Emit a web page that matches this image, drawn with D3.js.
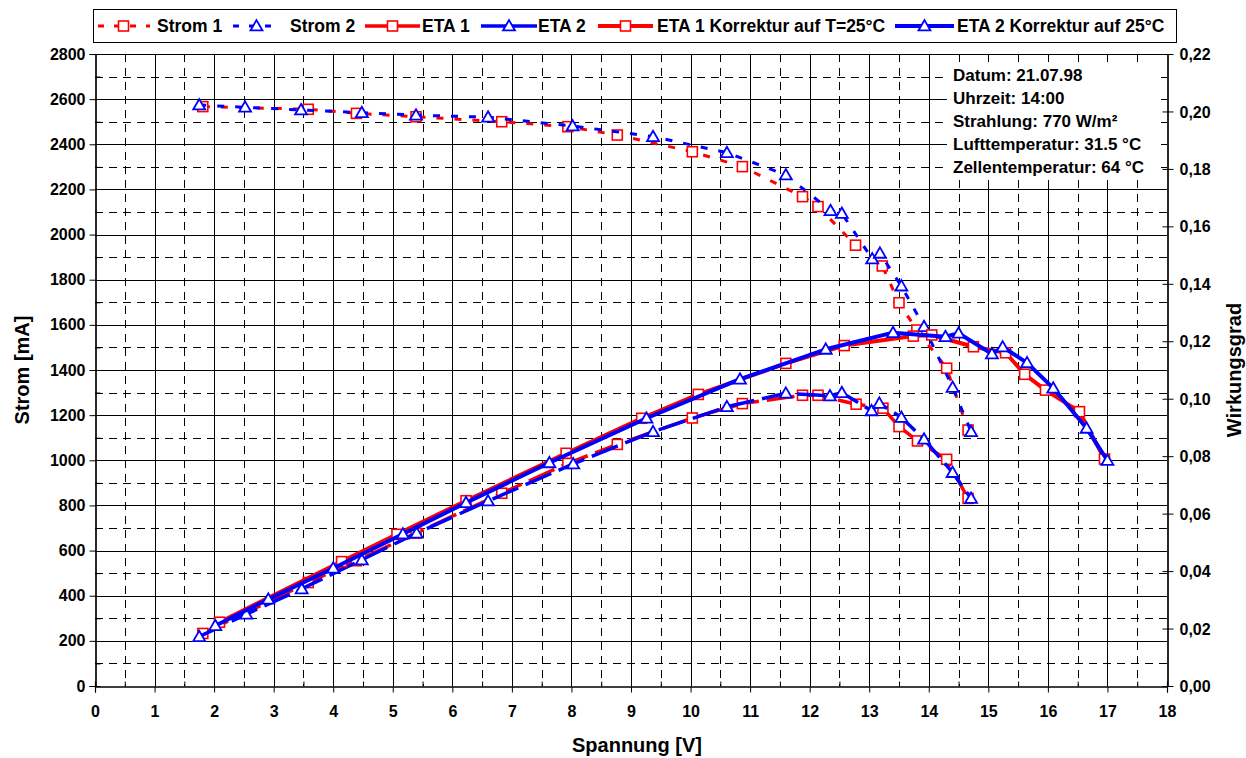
<!DOCTYPE html>
<html><head><meta charset="utf-8">
<script src="https://cdn.jsdelivr.net/npm/d3@7"></script>
<style>
body{margin:0;background:#fff}
text{font-family:"Liberation Sans",Arial,sans-serif;font-weight:bold;fill:#000}
</style>
</head><body><svg id="c" width="1246" height="758"></svg>
<script>
// ---- data ----
const strom1V = [1.81,3.58,4.39,5.39,6.83,7.94,8.77,10.03,10.87,11.88,12.14,12.77,13.22,13.50,13.80,14.30,14.66];
const strom1I = [2567,2555,2537,2522,2500,2478,2441,2367,2301,2168,2124,1953,1861,1698,1577,1408,1134];
const strom2V = [1.75,2.52,3.46,4.48,5.39,6.60,8.02,9.37,10.61,11.60,12.35,12.54,13.05,13.18,13.54,13.92,14.40,14.71];
const strom2I = [2574,2564,2552,2540,2529,2520,2481,2434,2363,2264,2106,2094,1892,1917,1772,1592,1323,1127];
const eta1V = [1.81,3.58,4.39,5.39,6.83,7.94,8.77,10.03,10.87,11.88,12.14,12.78,13.23,13.50,13.81,14.30,14.66];
const eta1 = [0.0183,0.0360,0.0436,0.0532,0.0671,0.0775,0.0841,0.0933,0.0983,0.1012,0.1012,0.0981,0.0967,0.0903,0.0853,0.0789,0.0653];
const eta2V = [1.75,2.54,3.47,4.48,5.40,6.60,8.03,9.37,10.61,11.60,12.34,12.54,13.04,13.17,13.54,13.92,14.40,14.71];
const eta2 = [0.0172,0.0250,0.0338,0.0439,0.0532,0.0644,0.0773,0.0885,0.0972,0.1019,0.1010,0.1021,0.0958,0.0984,0.0935,0.0859,0.0743,0.0653];
const eta1kV = [2.09,4.14,5.07,6.23,7.91,9.18,10.13,11.60,12.58,13.74,14.05,14.75,15.29,15.61,15.96,16.53,16.95];
const eta1k = [0.0222,0.0433,0.0528,0.0645,0.0810,0.0932,0.1015,0.1123,0.1185,0.1218,0.1222,0.1181,0.1160,0.1085,0.1030,0.0955,0.0790];
const eta2kV = [2.02,2.91,4.00,5.17,6.23,7.63,9.26,10.83,12.27,13.40,14.28,14.50,15.06,15.24,15.65,16.09,16.65,17.00];
const eta2k = [0.0210,0.0302,0.0410,0.0529,0.0638,0.0777,0.0932,0.1068,0.1172,0.1230,0.1216,0.1228,0.1156,0.1180,0.1125,0.1037,0.0897,0.0785];
const xTicks = d3.range(0,19,1);
const yLeftTicks = d3.range(0,2801,200);
const yRightTicks = [0,0.02,0.04,0.06,0.08,0.10,0.12,0.14,0.16,0.18,0.20,0.22];
const legendLabels = ["Strom 1","Strom 2","ETA 1","ETA 2","ETA 1 Korrektur auf T=25°C","ETA 2 Korrektur auf 25°C"];
const infoLines = ["Datum: 21.07.98","Uhrzeit: 14:00","Strahlung: 770 W/m²","Lufttemperatur: 31.5 °C","Zellentemperatur: 64 °C"];

const RED = "#ff0000", BLUE = "#0000ff";
const svg = d3.select("#c");
const x = d3.scaleLinear([0,18],[95,1167]);
const yL = d3.scaleLinear([0,2800],[686,54]);
const yR = d3.scaleLinear([0,0.22],[686,54]);

// ---- grid ----
const g = svg.append("g");
d3.range(1,18).forEach(v=>{
  g.append("line").attr("x1",Math.round(x(v))+0.5).attr("x2",Math.round(x(v))+0.5)
   .attr("y1",54).attr("y2",686).attr("stroke","#000").attr("stroke-width",1);
});
d3.range(0.5,18,1).forEach(v=>{
  g.append("line").attr("x1",Math.round(x(v))+0.5).attr("x2",Math.round(x(v))+0.5)
   .attr("y1",54).attr("y2",686).attr("stroke","#000").attr("stroke-width",1).attr("stroke-dasharray","8,6");
});
d3.range(200,2801,200).forEach(v=>{
  g.append("line").attr("y1",Math.round(yL(v))+0.5).attr("y2",Math.round(yL(v))+0.5)
   .attr("x1",95).attr("x2",1167).attr("stroke","#000").attr("stroke-width",1);
});
d3.range(100,2800,200).forEach(v=>{
  g.append("line").attr("y1",Math.round(yL(v))+0.5).attr("y2",Math.round(yL(v))+0.5)
   .attr("x1",95).attr("x2",1167).attr("stroke","#000").attr("stroke-width",1).attr("stroke-dasharray","8,6");
});

// ---- info box background (covers grid) ----
svg.append("rect").attr("x",947).attr("y",62).attr("width",214).attr("height",118).attr("fill","#fff");

// ---- axes ----
const fs = "16px";
const axL = svg.append("g").attr("transform","translate(95.5,0)")
  .call(d3.axisLeft(yL).tickValues(yLeftTicks).tickSize(6).tickPadding(4).tickFormat(d3.format("d")));
svg.append("g").attr("transform","translate(95.5,0)")
  .call(d3.axisRight(yL).tickValues(d3.range(100,2800,200)).tickSize(5).tickFormat(""));
const axR = svg.append("g").attr("transform","translate(1167.5,0)")
  .call(d3.axisRight(yR).tickValues(yRightTicks).tickSizeInner(6).tickSizeOuter(0).tickPadding(6)
  .tickFormat(d=>d3.format(".2f")(d).replace(".",",")));
svg.append("g").attr("transform","translate(1167.5,0)")
  .call(d3.axisLeft(yR).tickValues(yRightTicks).tickSize(5).tickFormat(""));
const axB = svg.append("g").attr("transform","translate(0,686.5)")
  .call(d3.axisBottom(x).tickValues(xTicks).tickSize(6).tickPadding(13));
svg.append("g").attr("transform","translate(0,686.5)")
  .call(d3.axisTop(x).tickValues(d3.range(0.5,18,1)).tickSize(5).tickFormat(""));
svg.selectAll(".domain").attr("stroke","#000").attr("stroke-width",1.2);
svg.selectAll(".tick line").attr("stroke","#000");
svg.selectAll(".tick text").style("font-size",fs).style("font-family","Liberation Sans, Arial, sans-serif").style("font-weight","bold");
axR.selectAll(".tick text").attr("dy","0.35em");
svg.append("line").attr("x1",95).attr("x2",1167).attr("y1",54.5).attr("y2",54.5).attr("stroke","#000").attr("stroke-width",1);

// ---- titles ----
svg.append("text").attr("x",637).attr("y",752).attr("text-anchor","middle").style("font-size","20px").text("Spannung [V]");
svg.append("text").attr("transform","translate(29,370) rotate(-90)").attr("text-anchor","middle").style("font-size","20px").text("Strom [mA]");
svg.append("text").attr("transform","translate(1241,370) rotate(-90)").attr("text-anchor","middle").style("font-size","20px").text("Wirkungsgrad");

// ---- series ----
function zip(a,b){return a.map((v,i)=>[v,b[i]]);}
const series = [
  {xs:strom1V, ys:strom1I, y:yL, color:RED, dash:"7,11", w:3, m:"sq"},
  {xs:strom2V, ys:strom2I, y:yL, color:BLUE, dash:"7,11", w:3, m:"tri"},
  {xs:eta1V, ys:eta1, y:yR, color:RED, dash:"28,8", w:3.5, m:"sq"},
  {xs:eta2V, ys:eta2, y:yR, color:BLUE, dash:"28,8", w:3.5, m:"tri"},
  {xs:eta1kV, ys:eta1k, y:yR, color:RED, dash:null, w:4, m:"sq"},
  {xs:eta2kV, ys:eta2k, y:yR, color:BLUE, dash:null, w:4, m:"tri"}
];
const tri = d3.symbol().type(d3.symbolTriangle).size(62);
function marker(sel, type, color){
  if(type==="sq"){
    sel.append("rect").attr("x",-5).attr("y",-5).attr("width",10).attr("height",10)
      .attr("fill","#fff").attr("stroke",color).attr("stroke-width",1.6);
  } else {
    sel.append("path").attr("d",tri).attr("transform","translate(0,1)")
      .attr("fill","#fff").attr("stroke",color).attr("stroke-width",1.8);
  }
}
series.forEach(s=>{
  const data = zip(s.xs,s.ys);
  const line = d3.line().x(d=>x(d[0])).y(d=>s.y(d[1]));
  const p = svg.append("path").datum(data).attr("d",line).attr("fill","none")
    .attr("stroke",s.color).attr("stroke-width",s.w).attr("stroke-linejoin","round");
  if(s.dash) p.attr("stroke-dasharray",s.dash);
  data.forEach(d=>{
    const gm = svg.append("g").attr("transform",`translate(${x(d[0])},${s.y(d[1])})`);
    marker(gm,s.m,s.color);
  });
});

// ---- info text ----
infoLines.forEach((t,i)=>{
  svg.append("text").attr("x",953).attr("y",81+i*23).style("font-size","17px").text(t);
});

// ---- legend ----
const lg = svg.append("g");
lg.append("rect").attr("x",93.5).attr("y",9.5).attr("width",1083).attr("height",33)
  .attr("fill","#fff").attr("stroke","#000").attr("stroke-width",1);
const legItems = [
  {x0:97, x1:150, tx:157, s:series[0]},
  {x0:232, x1:281, tx:290, s:series[1]},
  {x0:365, x1:420, tx:422, s:series[2]},
  {x0:481, x1:537, tx:538, s:series[3]},
  {x0:598, x1:653, tx:657, s:series[4]},
  {x0:895, x1:954, tx:957, s:series[5]}
];
legItems.forEach((it,i)=>{
  const ly = 26;
  const l = lg.append("line").attr("x1",it.x0).attr("x2",it.x1).attr("y1",ly).attr("y2",ly)
    .attr("stroke",it.s.color).attr("stroke-width",it.s.w);
  if(i<2) l.attr("stroke-dasharray","6,10").attr("stroke-dashoffset",-1);
  const gm = lg.append("g").attr("transform",`translate(${(it.x0+it.x1)/2},${ly})`);
  marker(gm,it.s.m,it.s.color);
  lg.append("text").attr("x",it.tx).attr("y",32).style("font-size","17.5px").text(legendLabels[i]);
});
</script>
</body></html>
